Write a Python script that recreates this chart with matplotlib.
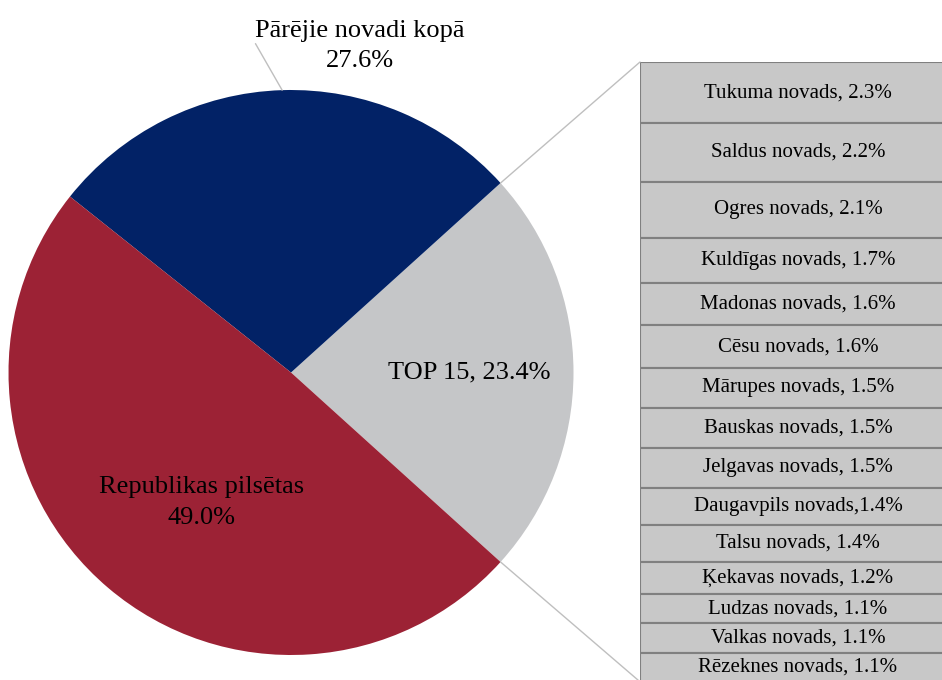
import matplotlib.pyplot as plt
import numpy as np
from matplotlib.patches import ConnectionPatch

plt.rcParams["font.family"] = ["Liberation Serif", "DejaVu Serif"]

# pie: share of total
pie_labels = ["TOP 15, 23.4%", "Pārējie novadi kopā\n27.6%", "Republikas pilsētas\n49.0%"]
pie_values = [23.4, 27.6, 49.0]
pie_colors = ["#C5C6C8", "#022266", "#9C2235"]

# bar: breakdown of TOP 15
top_names = [
    "Tukuma novads, 2.3%",
    "Saldus novads, 2.2%",
    "Ogres novads, 2.1%",
    "Kuldīgas novads, 1.7%",
    "Madonas novads, 1.6%",
    "Cēsu novads, 1.6%",
    "Mārupes novads, 1.5%",
    "Bauskas novads, 1.5%",
    "Jelgavas novads, 1.5%",
    "Daugavpils novads,1.4%",
    "Talsu novads, 1.4%",
    "Ķekavas novads, 1.2%",
    "Ludzas novads, 1.1%",
    "Valkas novads, 1.1%",
    "Rēzeknes novads, 1.1%",
]
top_values = [2.3, 2.2, 2.1, 1.7, 1.6, 1.6, 1.5, 1.5, 1.5, 1.4, 1.4, 1.2, 1.1, 1.1, 1.1]

W, H = 942, 680
fig = plt.figure(figsize=(W / 100, H / 100), dpi=100)

# pie axes: centre (291, 372.5) px, radius 282.5 px
R = 282.5
ax_pie = fig.add_axes([(291 - R) / W, (H - 372.5 - R) / H, 2 * R / W, 2 * R / H])
start = -pie_values[0] / 100 * 360 / 2
wedges, _ = ax_pie.pie(
    pie_values,
    colors=pie_colors,
    startangle=start,
    counterclock=True,
    radius=1,
    wedgeprops=dict(linewidth=0),
)
ax_pie.set_xlim(-1, 1)
ax_pie.set_ylim(-1, 1)
ax_pie.axis("off")


def mid(w):
    return np.deg2rad((w.theta1 + w.theta2) / 2)


# TOP 15 label
a = mid(wedges[0])
ax_pie.text(0.63 * np.cos(a), 0.63 * np.sin(a), pie_labels[0], ha="center",
            va="center", fontsize=19, color="black")
# Republikas label
a = mid(wedges[2])
ax_pie.text(0.55 * np.cos(a) + 0.04, 0.55 * np.sin(a) - 0.04, pie_labels[2],
            ha="center", va="center", fontsize=19, color="black", linespacing=1.5)
# Pārējie label with leader
a = mid(wedges[1])
ax_pie.annotate(
    pie_labels[1],
    xy=(np.cos(a), np.sin(a)),
    xytext=(0.245, 1.155),
    ha="center", va="center", fontsize=19, linespacing=1.45,
    annotation_clip=False,
    arrowprops=dict(arrowstyle="-", color="#BFBFBF", lw=1, relpos=(0, 0.55),
                    patchA=None, shrinkA=0, shrinkB=0),
)

# bar axes
bar_top = 62
ax_bar = fig.add_axes([640 / W, 0, 320 / W, (H - bar_top) / H])
bottoms = np.concatenate([[0], np.cumsum(top_values)[:-1]])
ax_bar.bar(0, top_values, bottom=bottoms, width=1, color="#C8C8C8",
           edgecolor="#808080", linewidth=1.5)
for name, v, b in zip(top_names, top_values, bottoms):
    ax_bar.text(-0.5 + 158 / 320, b + v / 2, name, ha="center", va="center",
                fontsize=15, color="black")
ax_bar.set_xlim(-0.5, 0.5)
ax_bar.set_ylim((H - bar_top) / 26.6, 0)
ax_bar.axis("off")

# connector lines
for w_ang, ybar in [(wedges[0].theta2, 0), (wedges[0].theta1, sum(top_values))]:
    t = np.deg2rad(w_ang)
    con = ConnectionPatch(xyA=(np.cos(t), np.sin(t)), coordsA=ax_pie.transData,
                          xyB=(-0.5, ybar), coordsB=ax_bar.transData,
                          color="#BFBFBF", lw=1)
    fig.add_artist(con)

fig.savefig("out.png", dpi=100)
